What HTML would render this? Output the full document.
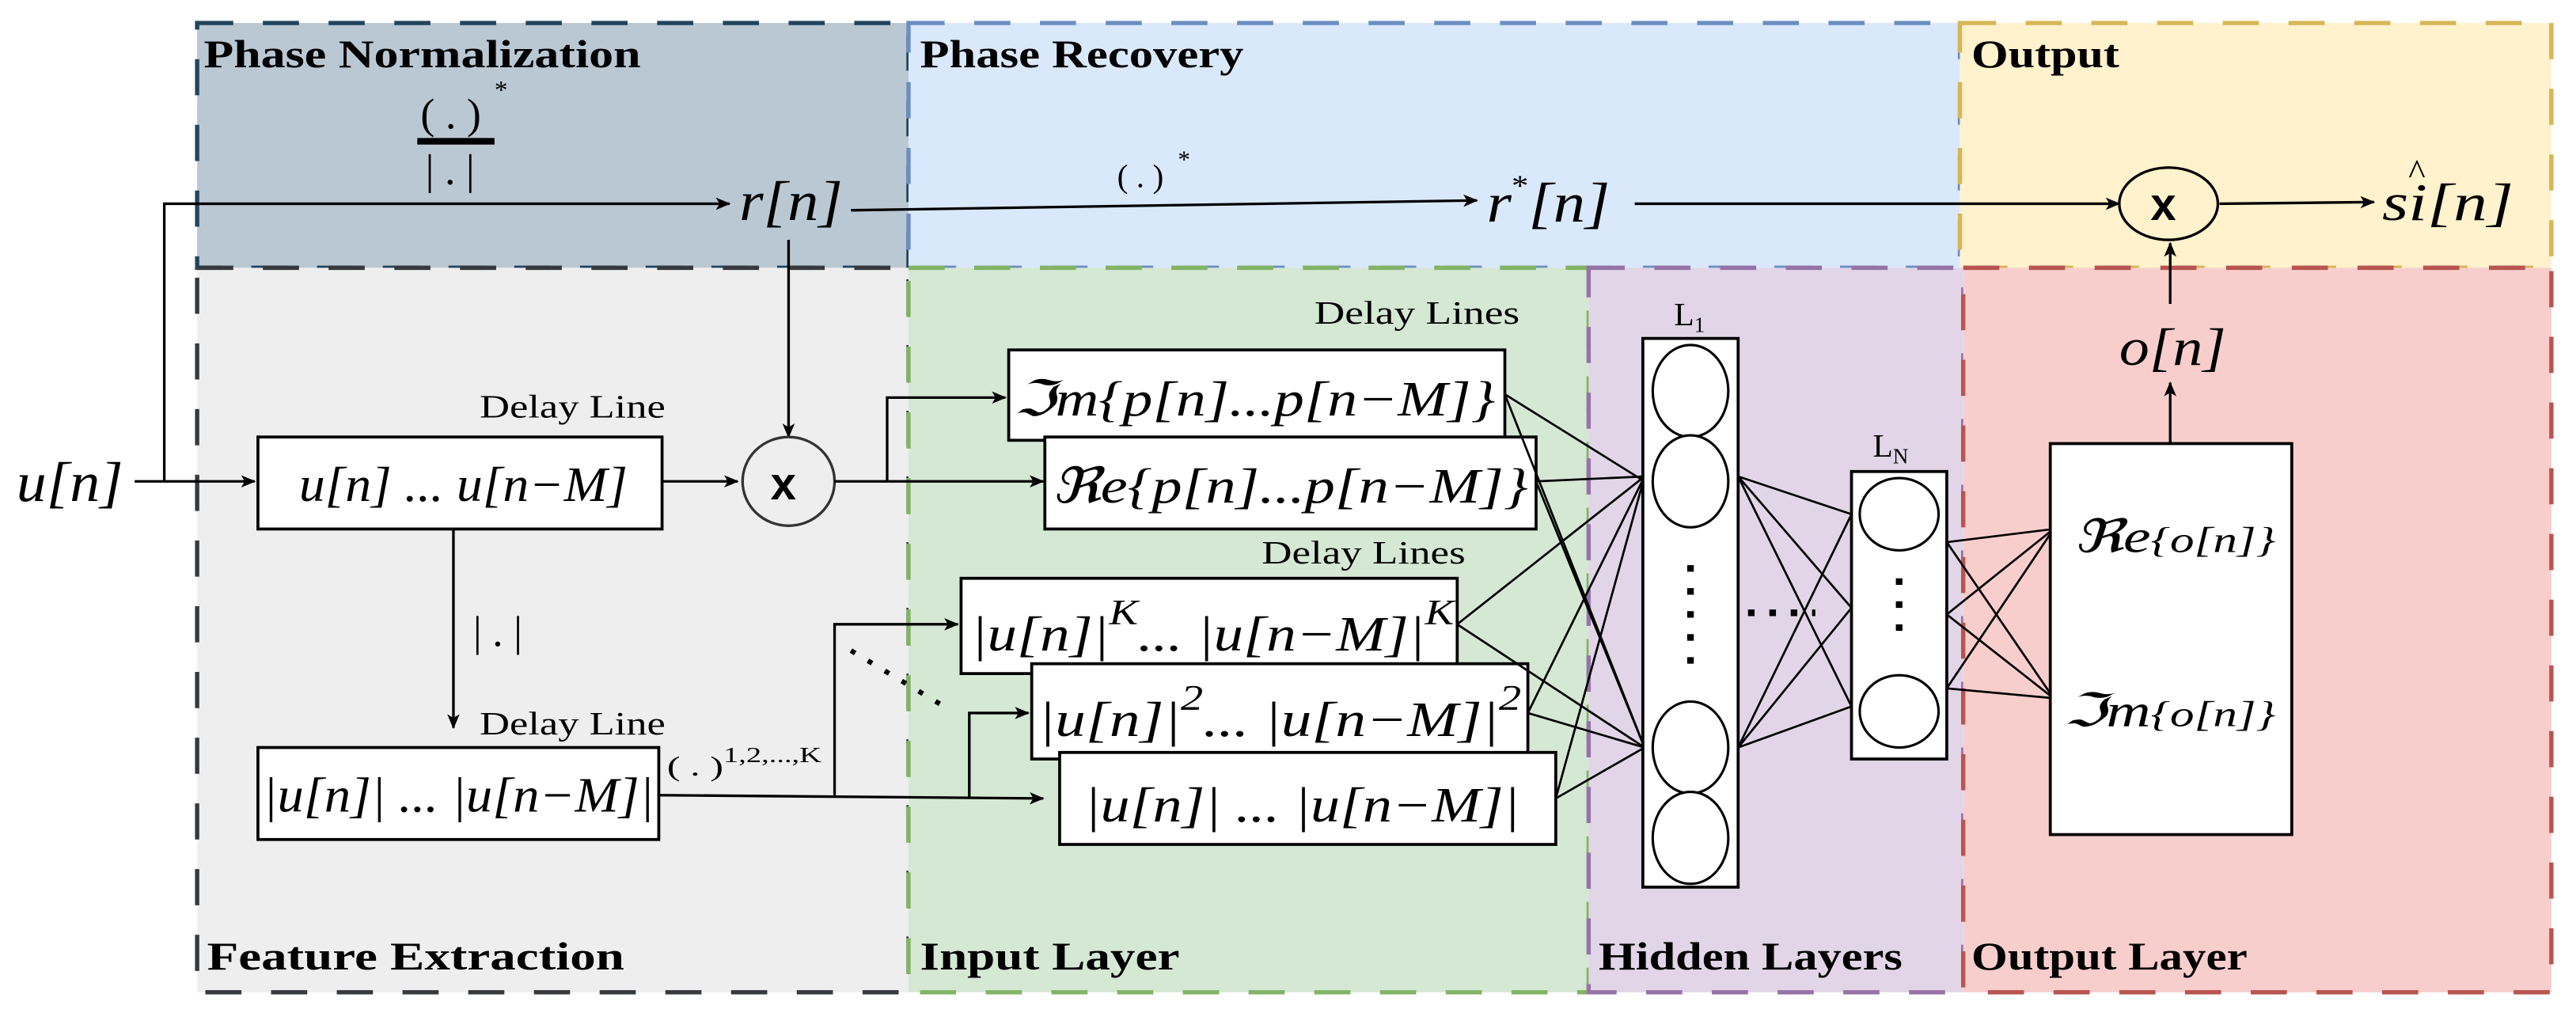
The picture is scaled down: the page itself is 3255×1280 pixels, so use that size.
<!DOCTYPE html>
<html><head><meta charset="utf-8"><style>
html,body{margin:0;padding:0;background:#fff;}
svg{display:block;}
.lbl{font-family:"Liberation Serif",serif;font-weight:bold;font-size:24px;fill:#000;}
.m{font-family:"Liberation Serif","DejaVu Serif",serif;font-style:italic;fill:#000;}
.s{font-family:"Liberation Serif",serif;fill:#000;}
.ln{stroke:#000;stroke-width:1.6;fill:none;}
.cn{stroke:#000;stroke-width:1.3;fill:none;}
.bx{fill:#fff;stroke:#000;stroke-width:1.8;}
</style></head><body>
<svg width="3255" height="1280" viewBox="0 0 1568 616.6" xmlns="http://www.w3.org/2000/svg">
<defs>
<marker id="a" viewBox="0 0 12 10" refX="11" refY="5" markerWidth="9" markerHeight="8" markerUnits="userSpaceOnUse" orient="auto">
<path d="M0,0 L12,5 L0,10 L3,5 Z" fill="#000"/></marker>
</defs>
<g stroke-width="2.6" stroke-dasharray="22,18">
<rect x="120" y="14" width="433" height="149" fill="#bac8d3" stroke="#23445d"/>
<rect x="553" y="14" width="640" height="149" fill="#dae8fc" stroke="#6c8ebf"/>
<rect x="1193" y="14" width="360" height="149" fill="#fff2cc" stroke="#d6b656"/>
<rect x="120" y="163" width="433" height="441" fill="#eeeeee" stroke="#36393d"/>
<rect x="553" y="163" width="414" height="441" fill="#d5e8d4" stroke="#82b366"/>
<rect x="967" y="163" width="228" height="441" fill="#e1d5e7" stroke="#9673a6"/>
<rect x="1195" y="163" width="358" height="441" fill="#f8cecc" stroke="#b85450"/>
</g>
<g lengthAdjust="spacingAndGlyphs">
<text class="lbl" x="124" y="41" textLength="266" lengthAdjust="spacingAndGlyphs">Phase Normalization</text>
<text class="lbl" x="560" y="41" textLength="197" lengthAdjust="spacingAndGlyphs">Phase Recovery</text>
<text class="lbl" x="1200" y="41" textLength="90" lengthAdjust="spacingAndGlyphs">Output</text>
<text class="lbl" x="126" y="590" textLength="254" lengthAdjust="spacingAndGlyphs">Feature Extraction</text>
<text class="lbl" x="560" y="590" textLength="158" lengthAdjust="spacingAndGlyphs">Input Layer</text>
<text class="lbl" x="973" y="590" textLength="185" lengthAdjust="spacingAndGlyphs">Hidden Layers</text>
<text class="lbl" x="1200" y="590" textLength="168" lengthAdjust="spacingAndGlyphs">Output Layer</text>
</g>

<!-- fraction -->
<text class="s" x="256" y="78" font-size="26">( . )</text>
<text class="s" x="301" y="60" font-size="16">*</text>
<rect x="254" y="84" width="47" height="4" fill="#000"/>
<text class="s" x="259" y="112" font-size="26">| . |</text>

<text class="m" x="10" y="305" font-size="34" textLength="65" lengthAdjust="spacingAndGlyphs">u[n]</text>
<path class="ln" d="M82,293 L155,293" marker-end="url(#a)"/>
<path class="ln" d="M100,293 L100,124 L444,124" marker-end="url(#a)"/>
<text class="m" x="450" y="134" font-size="34" textLength="63" lengthAdjust="spacingAndGlyphs">r[n]</text>
<path class="ln" d="M518,128 L899,122" marker-end="url(#a)"/>
<text class="s" x="680" y="114" font-size="20">( . )</text>
<text class="s" x="717" y="102" font-size="15">*</text>
<text class="m" x="905" y="135" font-size="34" textLength="75" lengthAdjust="spacingAndGlyphs">r<tspan font-size="18" dy="-16" font-style="normal">*</tspan><tspan dy="16">[n]</tspan></text>
<path class="ln" d="M995,124 L1290,124" marker-end="url(#a)"/>
<ellipse cx="1320" cy="124" rx="30" ry="22" fill="none" stroke="#000" stroke-width="1.6"/>
<text x="1309" y="134" font-size="28" font-family="Liberation Sans" font-weight="bold">x</text>
<path class="ln" d="M1351,124 L1445,123" marker-end="url(#a)"/>
<text class="m" x="1450" y="134" font-size="32" textLength="80" lengthAdjust="spacingAndGlyphs">si[n]</text>
<text class="s" x="1466" y="112" font-size="22">^</text>
<path class="ln" d="M1321,185 L1321,148" marker-end="url(#a)"/>
<text class="m" x="1290" y="222" font-size="32" textLength="65" lengthAdjust="spacingAndGlyphs">o[n]</text>
<path class="ln" d="M1321,270 L1321,233" marker-end="url(#a)"/>

<path class="ln" d="M480,146 L480,266" marker-end="url(#a)"/>
<ellipse cx="480" cy="293" rx="28" ry="27" fill="#eee" stroke="#333" stroke-width="1.6"/>
<text x="469" y="304" font-size="28" font-family="Liberation Sans" font-weight="bold">x</text>
<text class="s" x="292" y="254" font-size="20" textLength="113" lengthAdjust="spacingAndGlyphs">Delay Line</text>
<rect class="bx" x="157" y="266" width="246" height="56"/>
<text class="m" x="182" y="305" font-size="30" textLength="200" lengthAdjust="spacingAndGlyphs">u[n] ... u[n−M]</text>
<path class="ln" d="M403,293 L449,293" marker-end="url(#a)"/>
<path class="ln" d="M508,293 L635,293" marker-end="url(#a)"/>
<path class="ln" d="M540,293 L540,242 L612,242" marker-end="url(#a)"/>

<text class="s" x="800" y="197" font-size="20" textLength="125" lengthAdjust="spacingAndGlyphs">Delay Lines</text>
<rect class="bx" x="614" y="213" width="302" height="55"/>
<text class="m" x="617" y="253" font-size="30" textLength="293" lengthAdjust="spacingAndGlyphs">ℑm{p[n]...p[n−M]}</text>
<rect class="bx" x="636" y="266" width="299" height="56"/>
<text class="m" x="640" y="306" font-size="30" textLength="290" lengthAdjust="spacingAndGlyphs">ℜe{p[n]...p[n−M]}</text>
<text class="s" x="768" y="343" font-size="20" textLength="124" lengthAdjust="spacingAndGlyphs">Delay Lines</text>
<rect class="bx" x="585" y="352" width="302" height="58"/>
<text class="m" x="591" y="396" font-size="30" textLength="294" lengthAdjust="spacingAndGlyphs">|u[n]|<tspan font-size="22" dy="-16">K</tspan><tspan dy="16">... |u[n−M]|</tspan><tspan font-size="22" dy="-16">K</tspan></text>
<rect class="bx" x="628" y="404" width="302" height="58"/>
<text class="m" x="632" y="448" font-size="30" textLength="294" lengthAdjust="spacingAndGlyphs">|u[n]|<tspan font-size="22" dy="-16">2</tspan><tspan dy="16">... |u[n−M]|</tspan><tspan font-size="22" dy="-16">2</tspan></text>
<rect class="bx" x="645" y="458" width="302" height="56"/>
<text class="m" x="660" y="500" font-size="30" textLength="265" lengthAdjust="spacingAndGlyphs">|u[n]|  ... |u[n−M]|</text>

<text class="s" x="288" y="393" font-size="26">| . |</text>
<path class="ln" d="M276,322 L276,443" marker-end="url(#a)"/>
<text class="s" x="292" y="447" font-size="20" textLength="113" lengthAdjust="spacingAndGlyphs">Delay Line</text>
<rect class="bx" x="157" y="455" width="244" height="56"/>
<text class="m" x="160" y="494" font-size="30" textLength="238" lengthAdjust="spacingAndGlyphs">|u[n]| ... |u[n−M]|</text>
<text class="s" x="406" y="472" font-size="17" textLength="94" lengthAdjust="spacingAndGlyphs">( . )<tspan font-size="13" dy="-8">1,2,...,K</tspan></text>
<path class="ln" d="M401,484 L635,486" marker-end="url(#a)"/>
<path class="ln" d="M508,484 L508,380 L583,380" marker-end="url(#a)"/>
<path class="ln" d="M590,485 L590,434 L626,434" marker-end="url(#a)"/>
<path d="M518,396 L578,432" stroke="#000" stroke-width="3" stroke-dasharray="3,9"/>

<g class="cn">
<path d="M916,240 L1001,293 M916,240 L1001,455"/>
<path d="M935,293 L1001,290 M935,293 L1001,455"/>
<path d="M887,380 L1001,290 M887,380 L1001,455"/>
<path d="M930,434 L1001,290 M930,434 L1001,455"/>
<path d="M947,486 L1001,290 M947,486 L1001,455"/>
<path d="M1058,290 L1127,313 M1058,290 L1127,370 M1058,290 L1127,430"/>
<path d="M1058,455 L1127,313 M1058,455 L1127,370 M1058,455 L1127,430"/>
<path d="M1185,330 L1250,322 M1185,330 L1250,425"/>
<path d="M1185,374 L1250,322 M1185,374 L1250,425"/>
<path d="M1185,419 L1250,322 M1185,419 L1250,425"/>
</g>
<text class="s" x="1019" y="198" font-size="20">L<tspan font-size="13" dy="4">1</tspan></text>
<rect class="bx" x="1000" y="206" width="58" height="334"/>
<g fill="#fff" stroke="#000" stroke-width="1.5">
<ellipse cx="1029" cy="238" rx="23" ry="28"/>
<ellipse cx="1029" cy="293" rx="23" ry="28"/>
<ellipse cx="1029" cy="455" rx="23" ry="28"/>
<ellipse cx="1029" cy="510" rx="23" ry="28"/>
</g>
<path d="M1029,344 L1029,406" stroke="#000" stroke-width="4" stroke-dasharray="4,10"/>
<path d="M1064,373 L1105,373" stroke="#000" stroke-width="4" stroke-dasharray="4,9"/>
<text class="s" x="1140" y="278" font-size="20">L<tspan font-size="13" dy="4">N</tspan></text>
<rect class="bx" x="1127" y="287" width="58" height="175"/>
<g fill="#fff" stroke="#000" stroke-width="1.5">
<ellipse cx="1156" cy="313" rx="24" ry="22"/>
<ellipse cx="1156" cy="433" rx="24" ry="22"/>
</g>
<path d="M1156,352 L1156,390" stroke="#000" stroke-width="4" stroke-dasharray="4,10"/>
<rect class="bx" x="1248" y="270" width="147" height="238"/>
<text class="m" x="1262" y="336" font-size="28" textLength="123" lengthAdjust="spacingAndGlyphs">ℜe<tspan font-size="22">{o[n]}</tspan></text>
<text class="m" x="1256" y="442" font-size="28" textLength="129" lengthAdjust="spacingAndGlyphs">ℑm<tspan font-size="22">{o[n]}</tspan></text>
</svg>
</body></html>
